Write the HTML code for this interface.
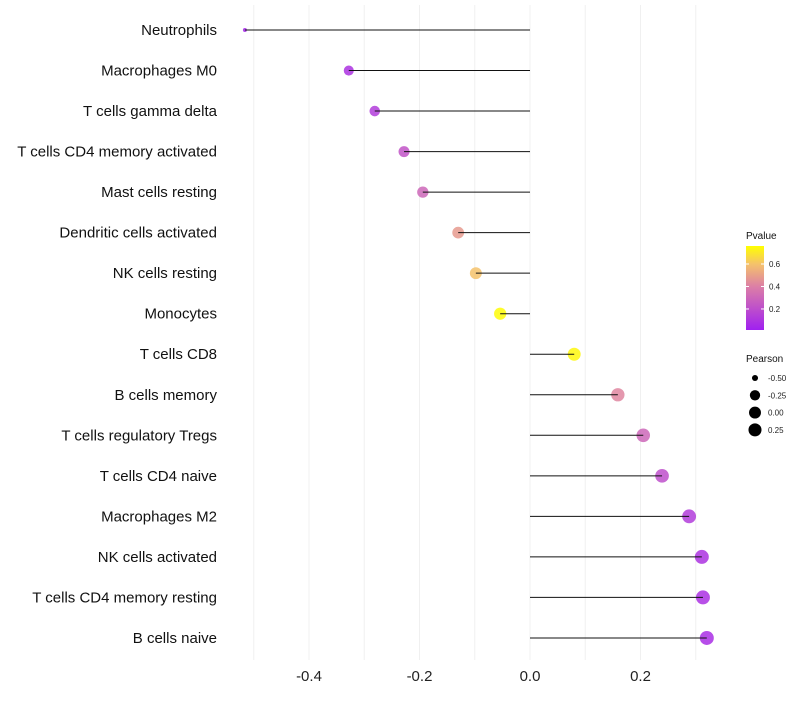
<!DOCTYPE html>
<html><head><meta charset="utf-8"><style>
body{margin:0;background:#fff;font-family:"Liberation Sans",sans-serif}
</style></head><body>
<svg id="c" width="800" height="700" xmlns="http://www.w3.org/2000/svg"></svg>
<script>
const categories=["Neutrophils","Macrophages M0","T cells gamma delta","T cells CD4 memory activated","Mast cells resting","Dendritic cells activated","NK cells resting","Monocytes","T cells CD8","B cells memory","T cells regulatory  Tregs ","T cells CD4 naive","Macrophages M2","NK cells activated","T cells CD4 memory resting","B cells naive"];
const pearson=[-0.516,-0.328,-0.281,-0.228,-0.194,-0.130,-0.098,-0.054,0.080,0.159,0.205,0.239,0.288,0.311,0.313,0.320];
const pvalue=[0.03,0.08,0.12,0.22,0.30,0.48,0.60,0.75,0.74,0.42,0.30,0.20,0.12,0.08,0.07,0.06];
const xTicks=[-0.4,-0.2,0,0.2];
const xGrid=[-0.5,-0.4,-0.3,-0.2,-0.1,0,0.1,0.2,0.3];
const pTicks=[0.2,0.4,0.6];
const sizeTicks=[-0.5,-0.25,0,0.25];
const NS="http://www.w3.org/2000/svg";
const svg=document.getElementById('c');
function mk(t,a,p){const e=document.createElementNS(NS,t);for(const k in a)e.setAttribute(k,a[k]);(p||svg).appendChild(e);return e;}
const x=v=>530+v*552.5;
const y=i=>30+i*40.53;
const r=v=>{const t=Math.max(0,(v+0.516)/0.836);return Math.sqrt(4+45*Math.sqrt(t));};
const stops=[[0,[160,32,240]],[0.4,[220,127,166]],[0.6,[245,194,107]],[0.76,[255,255,0]]];
function col(p){p=Math.max(0,Math.min(0.76,p));for(let i=1;i<stops.length;i++){if(p<=stops[i][0]){const a=stops[i-1],b=stops[i],t=(p-a[0])/(b[0]-a[0]);return 'rgb('+a[1].map((c,j)=>Math.round(c+(b[1][j]-c)*t)).join(',')+')';}}return 'rgb(255,255,0)';}
xGrid.forEach(v=>{const g=mk('line',{x1:x(v),x2:x(v),y1:5,y2:660,stroke:'#f0f0f0','stroke-width':1});

});
xTicks.forEach(v=>{const t=mk('text',{x:x(v),y:681,'text-anchor':'middle','font-size':15,fill:'#222'});t.textContent=v===0?'0.0':v.toFixed(1);

});
categories.forEach((c,i)=>{
const t=mk('text',{x:217,y:y(i)+5,'text-anchor':'end','font-size':15,fill:'#111'});t.textContent=c;


const d=mk('circle',{cx:x(pearson[i]),cy:y(i),r:r(pearson[i]),fill:col(pvalue[i]),'fill-opacity':0.85});


const l=mk('line',{x1:x(pearson[i]),x2:x(0),y1:y(i),y2:y(i),stroke:'#111','stroke-width':1});


});
const lt=mk('text',{x:746,y:239,'font-size':10,fill:'#111'});lt.textContent='Pvalue';


const defs=mk('defs',{});const gr=mk('linearGradient',{id:'pg',x1:0,y1:1,x2:0,y2:0},defs);
const pTop=0.76,pBot=0.013,yTop=246,yBot=330;
stops.forEach(s=>mk('stop',{offset:((s[0]-pBot)/(pTop-pBot)).toFixed(3),'stop-color':col(s[0])},gr));
const bar=mk('rect',{x:746,y:yTop,width:18,height:yBot-yTop,fill:'url(#pg)'});


pTicks.forEach(p=>{const yy=yBot-(p-pBot)/(pTop-pBot)*(yBot-yTop);
mk('line',{x1:746,x2:749,y1:yy,y2:yy,stroke:'#fff'});mk('line',{x1:761,x2:764,y1:yy,y2:yy,stroke:'#fff'});
const t=mk('text',{x:769,y:yy+3,'font-size':8,fill:'#222'});t.textContent=p.toFixed(1);

});
const st=mk('text',{x:746,y:362,'font-size':10,fill:'#111'});st.textContent='Pearson';


sizeTicks.forEach((v,i)=>{const yy=378+i*17.3;
const c=mk('circle',{cx:755,cy:yy,r:r(v)*0.95,fill:'#000'});


const t=mk('text',{x:768,y:yy+3,'font-size':8,fill:'#222'});t.textContent=v.toFixed(2);

});
</script>
</body></html>
